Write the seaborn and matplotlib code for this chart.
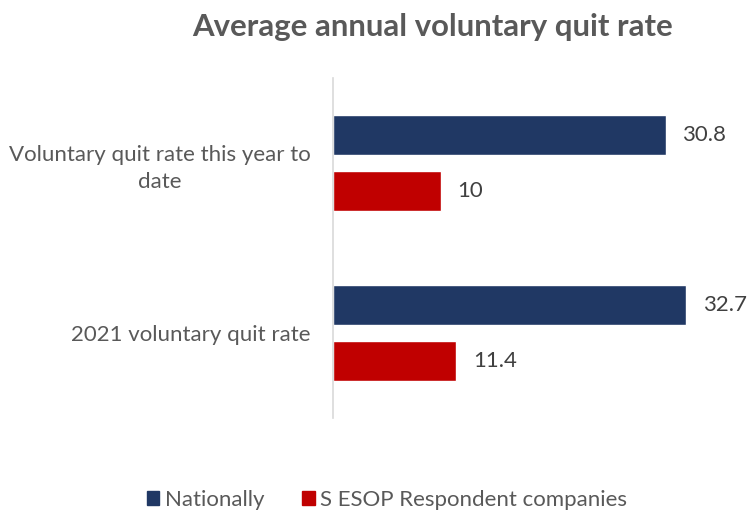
import matplotlib
matplotlib.use("Agg")
import matplotlib.pyplot as plt
import seaborn as sns
import pandas as pd
from matplotlib.patches import Patch

categories = ["Voluntary quit rate this year to\ndate", "2021 voluntary quit rate"]
series_names = ["Nationally", "S ESOP Respondent companies"]
nationally = [30.8, 32.7]
respondents = [10, 11.4]
colors = ["#203864", "#C00000"]
title = "Average annual voluntary quit rate"

df = pd.DataFrame({
    "category": categories * 2,
    "series": [series_names[0]] * 2 + [series_names[1]] * 2,
    "value": nationally + respondents,
})

sns.set_theme(style="white")
plt.rcParams["font.family"] = ["Lato", "DejaVu Sans"]
text_gray = "#595959"

fig = plt.figure(figsize=(7.49, 5.11), dpi=100)
ax = fig.add_axes([333 / 749, 1 - 418 / 511, 378 / 749, 340 / 511])

sns.barplot(data=df, y="category", x="value", hue="series", order=categories,
            hue_order=series_names, palette=colors, orient="h",
            width=0.667, gap=0.29, dodge=True, ax=ax, legend=False,
            saturation=1)

ax.set_xlim(0, 35)
ax.set_ylim(1.5, -0.5)
ax.set_xlabel("")
ax.set_ylabel("")
ax.set_xticks([])
for side in ["top", "right", "bottom"]:
    ax.spines[side].set_visible(False)
ax.spines["left"].set_color("#d9d9d9")
ax.spines["left"].set_linewidth(1.2)
ax.tick_params(axis="y", length=0, pad=16, labelsize=16, labelcolor=text_gray)
for lbl in ax.get_yticklabels():
    lbl.set_horizontalalignment("right")
    lbl.set_multialignment("center")
    lbl.set_linespacing(1.45)

for cont in ax.containers:
    ax.bar_label(cont, labels=[f"{v:g}" for v in cont.datavalues], padding=12,
                 fontsize=16, color="#404040")

fig.text(433 / 749, 1 - 27 / 511, title, ha="center", va="center",
         fontsize=22.4, fontweight="bold", color=text_gray)

handles = [Patch(facecolor=c, edgecolor=c) for c in colors]
fig.legend(handles, series_names, loc="center", bbox_to_anchor=(387 / 749, 1 - 500 / 511),
           ncol=2, frameon=False, fontsize=16, labelcolor=text_gray,
           handlelength=0.57, handleheight=0.57, handletextpad=0.25, columnspacing=1.7)

fig.savefig("out.png", dpi=100)
